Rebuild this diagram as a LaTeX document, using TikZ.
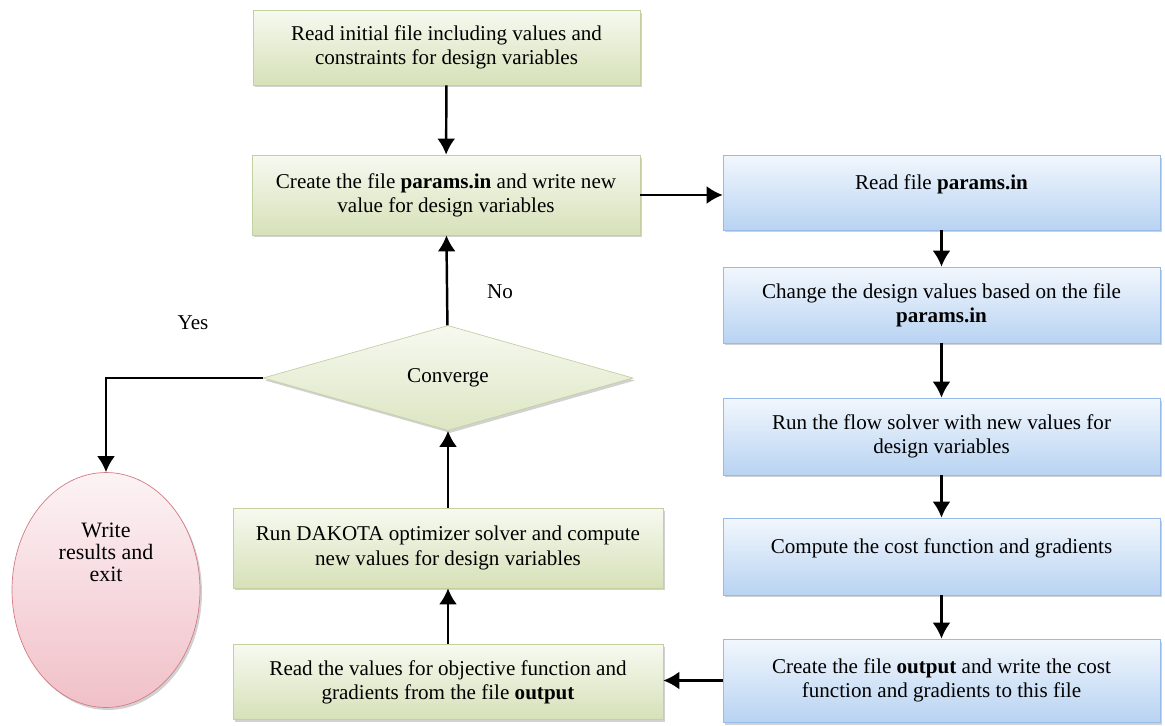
\documentclass[tikz,border=0pt]{standalone}
\usepackage{fontspec}
\setmainfont{Liberation Serif}
\usetikzlibrary{shapes.geometric, shadows, arrows.meta}
\tikzset{>={Latex[length=0.32cm, width=0.36cm]}}
\definecolor{greentop}{RGB}{247, 249, 240}
\definecolor{greenbot}{RGB}{214, 225, 184}
\definecolor{greenline}{RGB}{196, 208, 160}
\definecolor{bluetop}{RGB}{242, 247, 253}
\definecolor{bluebot}{RGB}{184, 211, 242}
\definecolor{blueline}{RGB}{150, 187, 232}
\definecolor{pinktop}{RGB}{252, 243, 245}
\definecolor{pinkbot}{RGB}{241, 192, 200}
\definecolor{pinkline}{RGB}{212, 122, 132}
\tikzset{
  boxshadow/.style = {drop shadow={shadow xshift=0.04cm, shadow yshift=-0.05cm, opacity=0.3, fill=black!60}},
  greenbox/.style = {draw=greenline, top color=greentop, bottom color=greenbot, boxshadow, align=center, inner sep=2pt},
  bluebox/.style = {draw=blueline, top color=bluetop, bottom color=bluebot, boxshadow, align=center, inner sep=2pt, minimum width=8.74cm},
  uptext/.style = {text height=0.25cm, text depth=0.37cm},
  flow/.style = {->, line width=1.4pt}
}

\begin{document}
\begin{tikzpicture}[x=0.02cm, y=-0.02cm, font=\fontsize{12}{13.8}\selectfont]
\useasboundingbox (0,0) rectangle (1165,726);
% left column
\node[greenbox, minimum width=7.74cm, minimum height=1.5cm] (init) at (446.5,47.5)
  {Read initial file including values and\\ constraints for design variables};
\node[greenbox, minimum width=7.76cm, minimum height=1.6cm] (create) at (446,195)
  {Create the file \textbf{params.in} and write new\\ value for design variables};
\node[diamond, draw=greenline, top color=greentop, bottom color=greenbot!85, boxshadow,
  minimum width=7.4cm, minimum height=2.1cm, inner sep=0pt] (conv) at (448,378) {Converge};
\node[greenbox, minimum width=8.6cm, minimum height=1.6cm] (dakota) at (448,548)
  {Run DAKOTA optimizer solver and compute\\ new values for design variables};
\node[greenbox, minimum width=8.6cm, minimum height=1.5cm] (readval) at (448,682)
  {Read the values for objective function and\\ gradients from the file \textbf{output}};
\node[ellipse, draw=pinkline, top color=pinktop, bottom color=pinkbot, boxshadow,
  minimum width=3.76cm, minimum height=4.7cm, inner sep=0pt,
  label={[name=writetxt, align=center, yshift=0.75cm, font=\fontsize{12.5}{12.5}\selectfont]center:Write\\ results and\\ exit}]
  (write) at (106,590) {};
% right column
\node[bluebox, minimum height=1.5cm, uptext] (readp) at (941.5,192.5) {Read file \textbf{params.in}};
\node[bluebox, minimum height=1.52cm] (change) at (941.5,305)
  {Change the design values based on the file\\ \textbf{params.in}};
\node[bluebox, minimum height=1.54cm] (solver) at (941.5,436.5)
  {Run the flow solver with new values for\\ design variables};
\node[bluebox, minimum height=1.54cm, uptext] (cost) at (941.5,556.5)
  {Compute the cost function and gradients};
\node[bluebox, minimum height=1.66cm] (outp) at (941.5,680.5)
  {Create the file \textbf{output} and write the cost\\ function and gradients to this file};
% labels
\node (no) at (500,292) {No};
\node (yes) at (193,323) {Yes};
% arrows
\draw[flow] (init) -- (create);
\draw[flow] (create.east) -- (create.east -| readp.west);
\draw[flow] (readp) -- (change);
\draw[flow] (change) -- (solver);
\draw[flow] (solver) -- (cost);
\draw[flow] (cost) -- (outp);
\draw[flow] (outp.west) -- (outp.west -| readval.east);
\draw[flow] (readval) -- (dakota);
\draw[flow] (dakota) -- (conv);
\draw[flow] (conv) -- (create);
\draw[flow] (conv.west) -| (write.north);
\end{tikzpicture}
\end{document}
